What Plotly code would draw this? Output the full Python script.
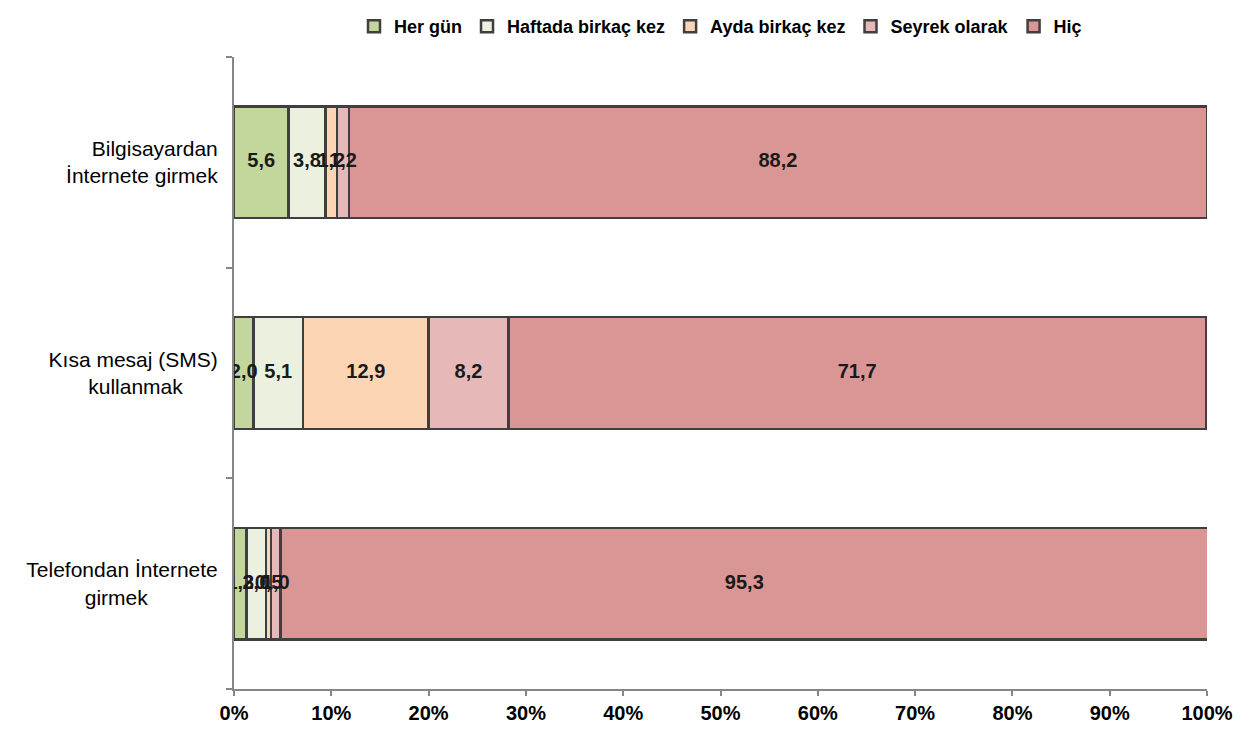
import plotly.graph_objects as go

# Kategoriler (üstten alta)
activities = [
    "Bilgisayardan İnternete girmek",
    "Kısa mesaj (SMS) kullanmak",
    "Telefondan İnternete girmek",
]
# iki satırlı eksen etiketleri (ikinci satır ortalansın diye boşluklu)
activity_labels = [
    "Bilgisayardan<br>İnternete girmek",
    "Kısa mesaj (SMS)<br>kullanmak" + "\u00a0" * 6,
    "Telefondan İnternete<br>girmek" + "\u00a0" * 12,
]

# Seriler (%)
her_gun = [5.6, 2.0, 1.3]
haftada = [3.8, 5.1, 2.0]
ayda = [1.2, 12.9, 0.5]
seyrek = [1.2, 8.2, 1.0]
hic = [88.2, 71.7, 95.3]

series = [
    ("Her gün", her_gun, "#c3d69b"),
    ("Haftada birkaç kez", haftada, "#ebf1de"),
    ("Ayda birkaç kez", ayda, "#fcd5b5"),
    ("Seyrek olarak", seyrek, "#e6b9b8"),
    ("Hiç", hic, "#d99694"),
]

x_ticks = list(range(0, 101, 10))

FONT = "Liberation Sans, Arial, sans-serif"

fig = go.Figure()
for name, vals, color in series:
    fig.add_trace(go.Bar(
        y=activities,
        x=vals,
        name=name,
        orientation="h",
        marker=dict(color=color, line=dict(color="#3f3f3f", width=2.5)),
        hoverinfo="name+x",
    ))

# değer etiketleri: çubukların üstünde kalsın diye ayrı metin izi
left = [0.0] * len(activities)
for name, vals, color in series:
    mids = [l + v / 2 for l, v in zip(left, vals)]
    fig.add_trace(go.Scatter(
        y=activities,
        x=mids,
        text=vals,
        mode="text",
        texttemplate="<b>%{text:.1f}</b>",
        textposition="middle center",
        textfont=dict(family=FONT, size=20, color="#1a1a1a"),
        showlegend=False,
        hoverinfo="skip",
    ))
    left = [l + v for l, v in zip(left, vals)]

# sayfa gövdesinin 8px kenar boşluğu hesaba katıldı
fig.update_layout(
    barmode="stack",
    bargap=0.47,
    separators=",.",
    width=1246,
    height=735,
    margin=dict(l=226, r=47, t=44, b=54),
    plot_bgcolor="white",
    paper_bgcolor="white",
    font=dict(family=FONT, size=20, color="#000000"),
    legend=dict(
        orientation="h",
        x=0.5,
        xanchor="center",
        yref="container",
        y=1,
        yanchor="top",
        font=dict(family=FONT, size=18, color="#000000", weight="bold"),
        itemwidth=30,
        traceorder="normal",
    ),
    xaxis=dict(
        range=[0, 100],
        tickvals=x_ticks,
        ticktext=["<b>%d%%</b>" % v for v in x_ticks],
        ticks="outside",
        ticklen=5,
        tickcolor="#868686",
        tickwidth=2,
        showline=True,
        linecolor="#868686",
        linewidth=2,
        showgrid=False,
        zeroline=False,
        tickfont=dict(family=FONT, size=20),
    ),
    yaxis=dict(
        categoryorder="array",
        categoryarray=activities,
        tickvals=activities,
        ticktext=activity_labels,
        autorange="reversed",
        ticks="outside",
        tickson="boundaries",
        ticklen=6,
        tickcolor="#868686",
        tickwidth=2,
        showline=True,
        linecolor="#868686",
        linewidth=2,
        showgrid=False,
        ticklabelstandoff=10,
        tickfont=dict(family=FONT, size=21),
    ),
)

fig.write_html("out.html")
